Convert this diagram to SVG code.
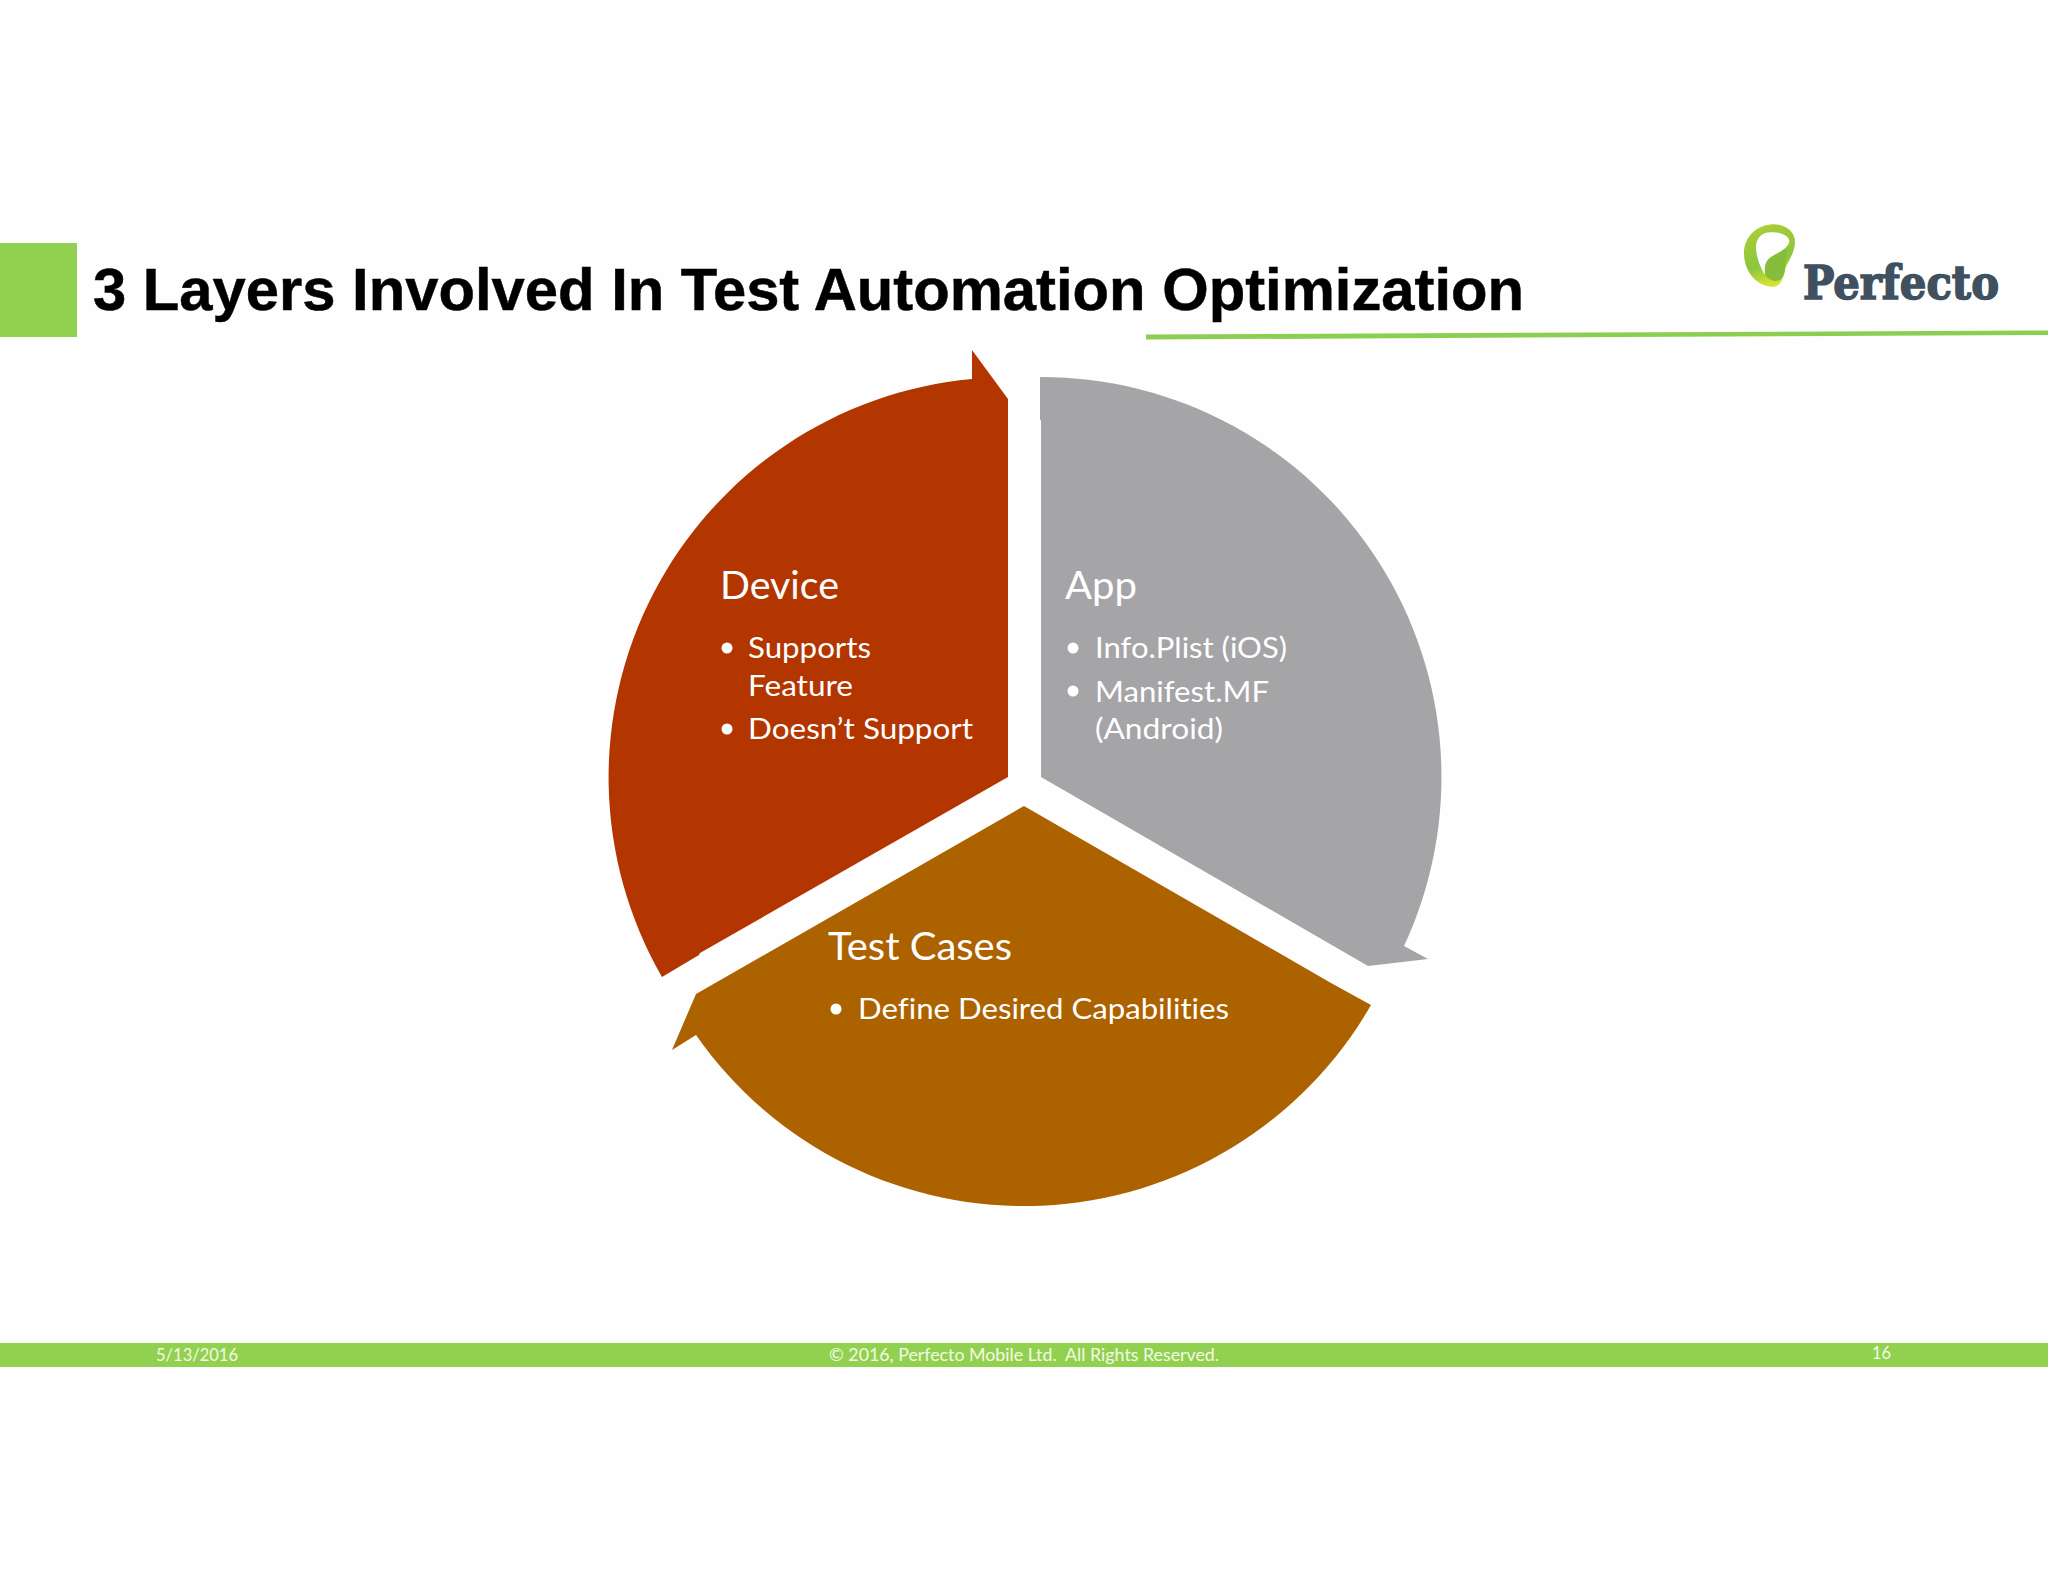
<svg xmlns="http://www.w3.org/2000/svg" width="2048" height="1582" viewBox="0 0 2048 1582">
<style>
.t{font-family:"Lato","Carlito","Liberation Sans",sans-serif;fill:#fff;font-variant-ligatures:none}
.h{font-size:38px}
.b{font-size:29px}
.f{font-size:17px;fill:#f2fae6}
.title{font-family:"Liberation Sans",Arial,sans-serif;font-weight:bold;font-size:59px;fill:#000;stroke:#000;stroke-width:0.5px}
.g{fill:#92d14f}
</style>
<defs>
<linearGradient id="lg" x1="0" y1="0" x2="0.3" y2="1"><stop offset="0" stop-color="#c8dc2c"/><stop offset="0.2" stop-color="#a4cc38"/><stop offset="0.7" stop-color="#8cc63f"/><stop offset="1" stop-color="#d2e02e"/></linearGradient>
</defs>
<rect width="2048" height="1582" fill="#fefefe"/>
<g id="header">
<rect class="g" x="0" y="243" width="77" height="94"/>
<text class="title" x="93" y="310" textLength="1431" lengthAdjust="spacingAndGlyphs">3 Layers Involved In Test Automation Optimization</text>
<path d="M1146 334.500L2048 330.500L2048 335L1146 339.500Z" fill="#8ccf50"/>
</g>
<g id="logo">
<g transform="translate(1730 215) scale(0.3333)">
<path fill="url(#lg)" fill-rule="evenodd" d="M125 28C75 32 42 70 42 115C42 170 80 215 130 215C150 213 160 195 165 165C170 145 195 115 195 80C195 48 165 26 125 28ZM122 52C95 52 76 72 78 100C80 130 92 160 105 180C103 150 108 135 125 125C150 110 175 100 178 78C176 60 150 50 122 52Z"/>
<path fill="#86bd3c" d="M105 180C103 150 108 135 125 125C140 117 155 110 170 98C172 120 166 140 165 165C160 190 150 198 138 198C125 198 113 190 105 180Z"/>
</g>
<text x="1803" y="299" font-family="'DejaVu Serif',serif" font-weight="bold" font-size="47" fill="#3f5061" stroke="#3f5061" stroke-width="1.600" textLength="196" lengthAdjust="spacingAndGlyphs">Perfecto</text>
</g>
<g id="node-device">
<path fill="#b33600" d="M1008 777L1008 399L972 350L972 379A400 400 0 0 0 662 977L699 955L700 953Z"/>
<text class="t h" x="720" y="598.500" textLength="119" lengthAdjust="spacingAndGlyphs">Device</text>
<circle cx="727" cy="648" r="5.500" fill="#fff"/>
<text class="t b" x="748" y="658" textLength="123" lengthAdjust="spacingAndGlyphs">Supports</text>
<text class="t b" x="748" y="696" textLength="105" lengthAdjust="spacingAndGlyphs">Feature</text>
<circle cx="727" cy="729" r="5.500" fill="#fff"/>
<text class="t b" x="748" y="739" textLength="225" lengthAdjust="spacingAndGlyphs">Doesn’t Support</text>
</g>
<g id="node-app">
<path fill="#a5a4a7" d="M1041 777L1368 966L1428 959L1404 946A400 400 0 0 0 1040 377L1040 420L1041 420Z"/>
<text class="t h" x="1065" y="599" textLength="72" lengthAdjust="spacingAndGlyphs">App</text>
<circle cx="1073" cy="648" r="5.500" fill="#fff"/>
<text class="t b" x="1095" y="658" textLength="192" lengthAdjust="spacingAndGlyphs">Info.Plist (iOS)</text>
<circle cx="1073" cy="691" r="5.500" fill="#fff"/>
<text class="t b" x="1095" y="702" textLength="174" lengthAdjust="spacingAndGlyphs">Manifest.MF</text>
<text class="t b" x="1095" y="739" textLength="128" lengthAdjust="spacingAndGlyphs">(Android)</text>
</g>
<g id="node-test-cases">
<path fill="#ad6200" d="M1024 806L1331 983L1371 1005A400 400 0 0 1 696 1035L672 1050L696 994Z"/>
<text class="t h" x="828" y="960" textLength="184" lengthAdjust="spacingAndGlyphs">Test Cases</text>
<circle cx="836" cy="1009" r="5.500" fill="#fff"/>
<text class="t b" x="858" y="1019" textLength="371" lengthAdjust="spacingAndGlyphs">Define Desired Capabilities</text>
</g>
<g id="connectors"></g>
<g id="footer">
<rect class="g" x="0" y="1343" width="2048" height="24"/>
<text class="t f" x="156" y="1361" textLength="82" lengthAdjust="spacingAndGlyphs">5/13/2016</text>
<text class="t f" x="829" y="1361" textLength="390" lengthAdjust="spacingAndGlyphs" xml:space="preserve">© 2016, Perfecto Mobile Ltd.  All Rights Reserved.</text>
<text class="t f" x="1872" y="1359" textLength="19" lengthAdjust="spacingAndGlyphs">16</text>
</g>
</svg>
